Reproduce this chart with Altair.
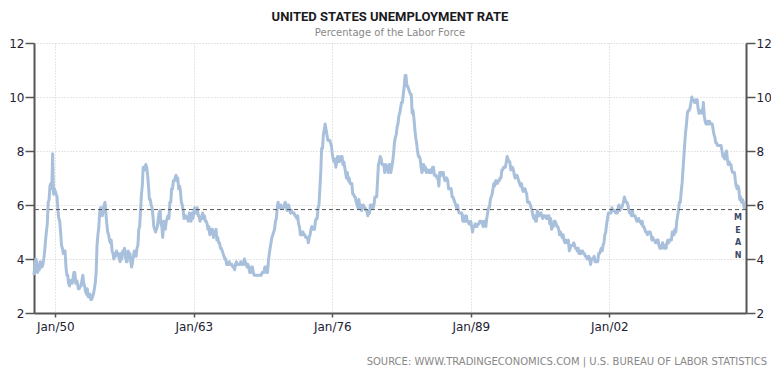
import altair as alt
import pandas as pd

# ---------------- data (monthly, % of labor force) ----------------
START = "1948-01-01"
RATE_1948_1949 = [
    3.4, 3.8, 4.0, 3.9, 3.5, 3.6, 3.6, 3.9, 3.8, 3.7, 3.8, 4.0,
    4.3, 4.7, 5.0, 5.3, 6.1, 6.2, 6.7, 6.8, 6.6, 7.9, 6.4, 6.6,
]
RATE_1950S = [
    6.5, 6.4, 6.3, 5.8, 5.5, 5.4, 5.0, 4.5, 4.4, 4.2, 4.2, 4.3,
    3.7, 3.4, 3.4, 3.1, 3.0, 3.2, 3.1, 3.1, 3.3, 3.5, 3.5, 3.1,
    3.2, 3.1, 2.9, 2.9, 3.0, 3.0, 3.2, 3.4, 3.1, 3.0, 2.8, 2.7,
    2.9, 2.6, 2.6, 2.7, 2.5, 2.5, 2.6, 2.7, 2.9, 3.1, 3.5, 4.5,
    4.9, 5.2, 5.7, 5.9, 5.9, 5.6, 5.8, 6.0, 6.1, 5.7, 5.3, 5.0,
    4.9, 4.7, 4.6, 4.7, 4.3, 4.2, 4.0, 4.2, 4.1, 4.3, 4.2, 4.2,
    4.0, 3.9, 4.2, 4.0, 4.3, 4.3, 4.4, 4.1, 3.9, 3.9, 4.3, 4.2,
    4.2, 3.9, 3.7, 3.9, 4.1, 4.3, 4.2, 4.1, 4.4, 4.5, 5.1, 5.2,
    5.8, 6.4, 6.7, 7.4, 7.4, 7.3, 7.5, 7.4, 7.1, 6.7, 6.2, 6.2,
    6.0, 5.9, 5.6, 5.2, 5.1, 5.0, 5.1, 5.2, 5.5, 5.7, 5.8, 5.3,
]
RATE_1960S = [
    5.2, 4.8, 5.4, 5.2, 5.1, 5.4, 5.5, 5.6, 5.5, 6.1, 6.1, 6.6,
    6.6, 6.9, 6.9, 7.0, 7.1, 6.9, 7.0, 6.6, 6.7, 6.5, 6.1, 6.0,
    5.8, 5.5, 5.6, 5.6, 5.5, 5.5, 5.4, 5.7, 5.6, 5.4, 5.7, 5.5,
    5.7, 5.9, 5.7, 5.7, 5.9, 5.6, 5.6, 5.4, 5.5, 5.5, 5.7, 5.5,
    5.6, 5.4, 5.4, 5.3, 5.1, 5.2, 4.9, 5.0, 5.1, 5.1, 4.8, 5.0,
    4.9, 5.1, 4.7, 4.8, 4.6, 4.6, 4.4, 4.4, 4.3, 4.2, 4.1, 4.0,
    4.0, 3.8, 3.8, 3.8, 3.9, 3.8, 3.8, 3.8, 3.7, 3.7, 3.6, 3.8,
    3.9, 3.8, 3.8, 3.8, 3.8, 3.9, 3.8, 3.8, 3.8, 4.0, 3.9, 3.8,
    3.7, 3.8, 3.7, 3.5, 3.5, 3.7, 3.7, 3.5, 3.4, 3.4, 3.4, 3.4,
    3.4, 3.4, 3.4, 3.4, 3.4, 3.5, 3.5, 3.5, 3.7, 3.7, 3.5, 3.5,
]
RATE_1970S = [
    3.9, 4.2, 4.4, 4.6, 4.8, 4.9, 5.0, 5.1, 5.4, 5.5, 5.9, 6.1,
    5.9, 5.9, 6.0, 5.9, 5.9, 5.9, 6.0, 6.1, 6.0, 5.8, 6.0, 6.0,
    5.8, 5.7, 5.8, 5.7, 5.7, 5.7, 5.6, 5.6, 5.5, 5.6, 5.3, 5.2,
    4.9, 5.0, 4.9, 5.0, 4.9, 4.9, 4.8, 4.8, 4.8, 4.6, 4.8, 4.9,
    5.1, 5.2, 5.1, 5.1, 5.1, 5.4, 5.5, 5.5, 5.9, 6.0, 6.6, 7.2,
    8.1, 8.1, 8.6, 8.8, 9.0, 8.8, 8.6, 8.4, 8.4, 8.4, 8.3, 8.2,
    7.9, 7.7, 7.6, 7.7, 7.4, 7.6, 7.8, 7.8, 7.6, 7.7, 7.8, 7.8,
    7.5, 7.6, 7.4, 7.2, 7.0, 7.2, 6.9, 7.0, 6.8, 6.8, 6.8, 6.4,
    6.4, 6.3, 6.3, 6.1, 6.0, 5.9, 6.2, 5.9, 6.0, 5.8, 5.9, 6.0,
    5.9, 5.9, 5.8, 5.8, 5.6, 5.7, 5.7, 6.0, 5.9, 6.0, 5.9, 6.0,
]
RATE_1980S = [
    6.3, 6.3, 6.3, 6.9, 7.5, 7.6, 7.8, 7.7, 7.5, 7.5, 7.5, 7.2,
    7.5, 7.4, 7.4, 7.2, 7.5, 7.5, 7.2, 7.4, 7.6, 7.9, 8.3, 8.5,
    8.6, 8.9, 9.0, 9.3, 9.4, 9.6, 9.8, 9.8, 10.1, 10.4, 10.8, 10.8,
    10.4, 10.4, 10.3, 10.2, 10.1, 10.1, 9.4, 9.5, 9.2, 8.8, 8.5, 8.3,
    8.0, 7.8, 7.8, 7.7, 7.4, 7.2, 7.5, 7.5, 7.3, 7.4, 7.2, 7.3,
    7.3, 7.2, 7.2, 7.3, 7.2, 7.4, 7.4, 7.1, 7.1, 7.1, 7.0, 7.0,
    6.7, 7.2, 7.2, 7.1, 7.2, 7.2, 7.0, 6.9, 7.0, 7.0, 6.9, 6.6,
    6.6, 6.6, 6.6, 6.3, 6.3, 6.2, 6.1, 6.0, 5.9, 6.0, 5.8, 5.7,
    5.7, 5.7, 5.7, 5.4, 5.6, 5.4, 5.4, 5.6, 5.4, 5.4, 5.3, 5.3,
    5.4, 5.2, 5.0, 5.2, 5.2, 5.3, 5.2, 5.2, 5.3, 5.3, 5.4, 5.4,
]
RATE_1990S = [
    5.4, 5.3, 5.2, 5.4, 5.4, 5.2, 5.5, 5.7, 5.9, 5.9, 6.2, 6.3,
    6.4, 6.6, 6.8, 6.7, 6.9, 6.9, 6.8, 6.9, 6.9, 7.0, 7.0, 7.3,
    7.3, 7.4, 7.4, 7.4, 7.6, 7.8, 7.7, 7.6, 7.6, 7.3, 7.4, 7.4,
    7.3, 7.1, 7.0, 7.1, 7.1, 7.0, 6.9, 6.8, 6.7, 6.8, 6.6, 6.5,
    6.6, 6.6, 6.5, 6.4, 6.1, 6.1, 6.1, 6.0, 5.9, 5.8, 5.6, 5.5,
    5.6, 5.4, 5.4, 5.8, 5.6, 5.6, 5.7, 5.7, 5.6, 5.5, 5.6, 5.6,
    5.6, 5.5, 5.5, 5.6, 5.6, 5.3, 5.5, 5.1, 5.2, 5.2, 5.4, 5.4,
    5.3, 5.2, 5.2, 5.1, 4.9, 5.0, 4.9, 4.8, 4.9, 4.7, 4.6, 4.7,
    4.6, 4.6, 4.7, 4.3, 4.4, 4.5, 4.5, 4.5, 4.6, 4.5, 4.4, 4.4,
    4.3, 4.4, 4.2, 4.3, 4.2, 4.3, 4.3, 4.2, 4.2, 4.1, 4.1, 4.0,
]
RATE_2000S = [
    4.0, 4.1, 4.0, 3.8, 4.0, 4.0, 4.0, 4.1, 3.9, 3.9, 3.9, 3.9,
    4.2, 4.2, 4.3, 4.4, 4.3, 4.5, 4.6, 4.9, 5.0, 5.3, 5.5, 5.7,
    5.7, 5.7, 5.7, 5.9, 5.8, 5.8, 5.8, 5.7, 5.7, 5.7, 5.9, 6.0,
    5.8, 5.9, 5.9, 6.0, 6.1, 6.3, 6.2, 6.1, 6.1, 6.0, 5.8, 5.7,
    5.7, 5.6, 5.8, 5.6, 5.6, 5.6, 5.5, 5.4, 5.4, 5.5, 5.4, 5.4,
    5.3, 5.4, 5.2, 5.2, 5.1, 5.0, 5.0, 4.9, 5.0, 5.0, 5.0, 4.9,
    4.7, 4.8, 4.7, 4.7, 4.6, 4.6, 4.7, 4.7, 4.5, 4.4, 4.5, 4.4,
    4.6, 4.5, 4.4, 4.5, 4.4, 4.6, 4.7, 4.6, 4.7, 4.7, 4.7, 5.0,
    5.0, 4.9, 5.1, 5.0, 5.4, 5.6, 5.8, 6.1, 6.1, 6.5, 6.8, 7.3,
    7.8, 8.3, 8.7, 9.0, 9.4, 9.5, 9.5, 9.6, 9.8, 10.0, 9.9, 9.9,
]
RATE_2010S = [
    9.8, 9.8, 9.9, 9.9, 9.6, 9.4, 9.4, 9.5, 9.5, 9.4, 9.8, 9.3,
    9.1, 9.0, 9.0, 9.1, 9.0, 9.1, 9.0, 9.0, 9.0, 8.8, 8.6, 8.5,
    8.3, 8.3, 8.2, 8.2, 8.2, 8.2, 8.2, 8.0, 7.8, 7.8, 7.7, 7.9,
    8.0, 7.7, 7.5, 7.6, 7.5, 7.5, 7.3, 7.2, 7.2, 7.2, 6.9, 6.7,
    6.6, 6.7, 6.6, 6.2, 6.3, 6.1, 6.2, 6.1, 5.9, 5.9,
]
MEAN_VALUE = 5.83
X_TICK_YEARS = [1950, 1963, 1976, 1989, 2002]
Y_TICKS = [2, 4, 6, 8, 10, 12]
Y_DOMAIN = [2, 12]
TITLE = "UNITED STATES UNEMPLOYMENT RATE"
SUBTITLE = "Percentage of the Labor Force"
SOURCE = "SOURCE: WWW.TRADINGECONOMICS.COM  |  U.S. BUREAU OF LABOR STATISTICS"
MEAN_LABEL = "M\nE\nA\nN"

rates = (RATE_1948_1949 + RATE_1950S + RATE_1960S + RATE_1970S
         + RATE_1980S + RATE_1990S + RATE_2000S + RATE_2010S)
dates = pd.date_range(START, periods=len(rates), freq="MS")
df = pd.DataFrame({"date": dates, "rate": rates})
mean_df = pd.DataFrame({"mean": [MEAN_VALUE]})

W, H = 712, 270
AXIS_COLOR = "#555555"
LABEL_COLOR = "#222233"
FONT = "DejaVu Sans"

x_scale = alt.Scale(
    domain=[alt.DateTime(year=1948, month=1, date=1),
            alt.DateTime(year=2014, month=11, date=1)],
    nice=False,
)
y_scale = alt.Scale(domain=Y_DOMAIN, nice=False, zero=False)

common_axis = dict(
    title=None,
    domainColor=AXIS_COLOR,
    domainWidth=2,
    tickColor=AXIS_COLOR,
    tickWidth=1.5,
    labelFont=FONT,
    labelFontSize=12,
    labelColor=LABEL_COLOR,
)

line = alt.Chart(df).mark_line(
    color="#a9c0dc", strokeWidth=3, strokeJoin="round"
).encode(
    x=alt.X(
        "date:T",
        scale=x_scale,
        axis=alt.Axis(
            values=[alt.DateTime(year=y, month=1, date=1) for y in X_TICK_YEARS],
            format="%b/%y",
            grid=True,
            gridColor="#cccccc",
            gridDash=[1, 2],
            tickSize=4,
            labelPadding=4,
            labelFlush=False,
            **common_axis,
        ),
    ),
    y=alt.Y(
        "rate:Q",
        scale=y_scale,
        axis=alt.Axis(
            orient="left",
            values=Y_TICKS,
            grid=True,
            gridColor="#cccccc",
            gridDash=[1, 2],
            tickSize=9,
            labelPadding=1,
            labelFlush=False,
            **common_axis,
        ),
    ),
)

mean_rule = alt.Chart(mean_df).mark_rule(
    color="#555555", strokeDash=[4, 3], strokeWidth=1
).encode(
    y=alt.Y(
        "mean:Q",
        scale=y_scale,
        axis=alt.Axis(
            orient="right",
            values=Y_TICKS,
            grid=False,
            tickSize=9,
            labelPadding=1,
            labelFlush=False,
            **common_axis,
        ),
    )
)

mean_text = alt.Chart(mean_df).mark_text(
    text=MEAN_LABEL, lineBreak="\n", lineHeight=12.7, fontSize=8,
    fontWeight="bold", font=FONT, color="#3c4a66", align="center", baseline="top",
).encode(x=alt.value(704), y=alt.value(171))

source_text = alt.Chart(mean_df).mark_text(
    text=SOURCE, fontSize=10, font=FONT, color="#888888", align="right",
    baseline="middle",
).encode(x=alt.value(733), y=alt.value(319))

chart = alt.layer(line, mean_rule, mean_text, source_text).resolve_scale(
    y="independent"
).properties(
    width=W,
    height=H,
    padding={"left": 26, "top": 35, "right": 25, "bottom": 59},
    autosize=alt.AutoSizeParams(type="none"),
    title=alt.TitleParams(
        text=TITLE,
        subtitle=SUBTITLE,
        anchor="middle",
        font="Roboto",
        fontSize=13,
        fontWeight="bold",
        color="#1a1a22",
        subtitleFont=FONT,
        subtitleFontSize=10,
        subtitleColor="#888888",
        subtitlePadding=4,
        offset=-1,
    ),
).configure_view(stroke="transparent")

chart.save("out.html", embed_options={"renderer": "svg", "actions": False})
